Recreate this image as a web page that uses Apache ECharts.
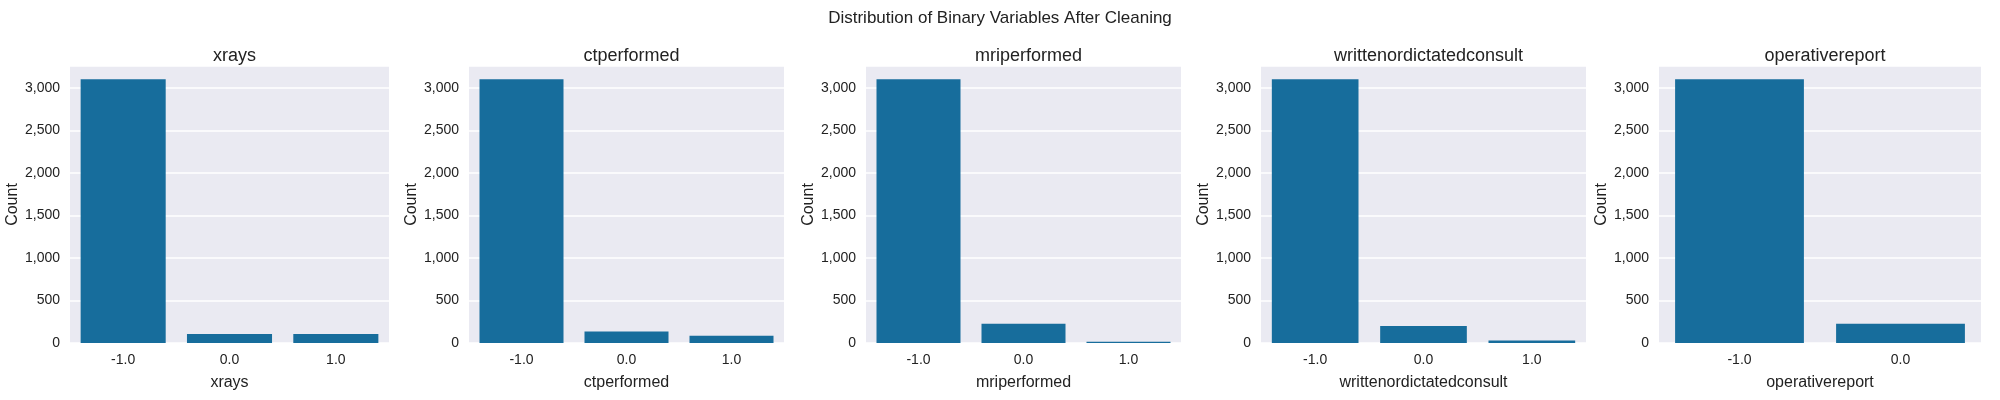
<!DOCTYPE html><html><head><meta charset="utf-8"><script src="https://cdn.jsdelivr.net/npm/echarts@6/dist/echarts.min.js"></script>
<style>html,body{margin:0;background:#fff}#c{width:2000px;height:400px}</style></head><body><div id="c"></div><script>
const names=["xrays","ctperformed","mriperformed","writtenordictatedconsult","operativereport"];
const cats=[["-1.0","0.0","1.0"],["-1.0","0.0","1.0"],["-1.0","0.0","1.0"],["-1.0","0.0","1.0"],["-1.0","0.0"]];
const vals=[[3100,105,105],[3100,135,85],[3100,225,15],[3100,200,30],[3100,225]];
const lefts=[70,469,866,1261,1659], rights=[389,784,1181,1586,1981];
const ff="Liberation Sans, Arial, sans-serif";
const grid=[],xAxis=[],yAxis=[],series=[],title=[{text:"Distribution of Binary Variables After Cleaning",left:"center",top:5,textStyle:{fontFamily:ff,fontSize:17,fontWeight:"normal",color:"#222"}}];
names.forEach((n,i)=>{
grid.push({left:lefts[i],width:rights[i]-lefts[i],top:66,height:277,backgroundColor:"#eaeaf2",show:true,borderWidth:0});
xAxis.push({type:"category",gridIndex:i,data:cats[i],name:n,nameLocation:"middle",nameGap:32,nameTextStyle:{fontFamily:ff,fontSize:16,color:"#222"},axisLine:{show:false},axisTick:{show:false},axisLabel:{fontFamily:ff,fontSize:14,color:"#222",margin:10}});
yAxis.push({type:"value",gridIndex:i,min:0,max:3255,interval:500,name:"Count",nameLocation:"middle",nameGap:48,nameTextStyle:{fontFamily:ff,fontSize:16,color:"#222"},axisLine:{show:false},axisTick:{show:false},axisLabel:{fontFamily:ff,fontSize:14,color:"#222",margin:10,showMaxLabel:false},splitLine:{lineStyle:{color:"#fff",width:1.5}}});
series.push({type:"bar",xAxisIndex:i,yAxisIndex:i,data:vals[i],barCategoryGap:"20%",itemStyle:{color:"#176d9c"}});
title.push({text:n,left:(lefts[i]+rights[i])/2,textAlign:"center",top:42,textStyle:{fontFamily:ff,fontSize:18,fontWeight:"normal",color:"#222"}});
});
echarts.init(document.getElementById("c")).setOption({animation:false,title,grid,xAxis,yAxis,series});
</script></body></html>
